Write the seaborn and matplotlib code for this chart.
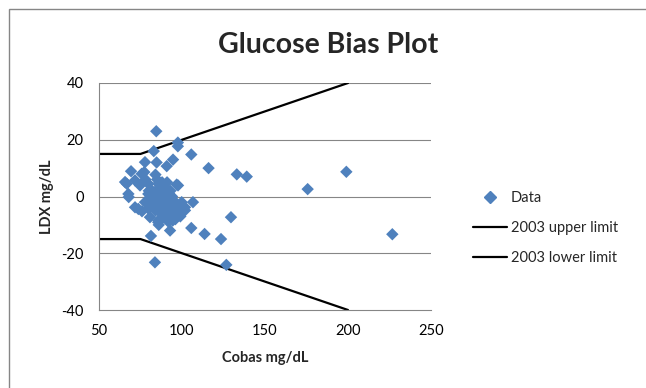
import matplotlib
matplotlib.use("Agg")
import matplotlib.pyplot as plt
import seaborn as sns
import pandas as pd
from matplotlib.patches import Rectangle
from matplotlib.lines import Line2D

# ---- data ----
cobas = [84.5, 97.5, 97.5, 83, 105.6, 77.7, 84.7, 94.6, 90.8, 116, 69.3, 84, 133, 139, 97.6,
         75.7, 65.7, 199, 175.7, 226.7, 126.7, 129.5, 123.5, 113.6, 105.6, 106.6, 83.7, 81.3,
         92.8, 66.7, 67.9, 73.7, 75.9, 80.7, 85.7, 94.4, 99.8, 101.8,
         77.3, 71.7, 74.7, 79.7, 85.7, 89.8, 96.8, 67.7, 79.7, 83.7, 87.8, 91.8, 92.8, 77.7,
         83.7, 71.7, 79.7, 85.7, 89.8, 94.8, 99.8, 101.8, 85.7, 92.8, 97.8,
         82, 86, 88, 90, 87, 89, 91, 93, 95, 96, 88, 84, 86, 90, 92, 94, 85, 88, 91, 83, 81,
         87, 90, 94, 97, 99, 96, 89, 86, 92, 78, 80, 93]
bias = [23, 19, 17.7, 16, 14.8, 12.1, 12, 13, 10.7, 10, 8.9, 7.7, 7.8, 7, 3.9,
        8, 5.1, 8.7, 2.6, -13.3, -24.1, -7.3, -15, -13.2, -11.1, -2, -23.2, -13.9,
        -12, 4.5, -0.2, -4.4, -5.2, -7.3, -9.1, -8.5, -5.5, -3.8,
        8.6, 5.7, 3.9, 4.5, 4.5, 3.3, 4.2, 0.9, 0.9, 0.9, -0.2, 0.9, -1.4, -2,
        -2.6, -3.8, -4.3, -4.9, -3.8, -4.3, -2, -4.9, -8.5, -6.7, -6.7,
        2, 3, 1, 2, -3, -5, -4, -3, -6, -2, -6, -5, -1, -1, 1, 0, 6, 5, 5, -1, -3,
        -8, -7, -5, -4, -7, -8, 3, -10, -9, 6, 2, 2]

limit_x = [50, 75, 200]
upper_y = [15, 15, 40]
lower_y = [-15, -15, -40]

x_ticks = [50, 100, 150, 200, 250]
y_ticks = [-40, -20, 0, 20, 40]

df = pd.DataFrame({"Cobas": cobas, "Bias": bias})
lim = pd.DataFrame({"x": limit_x, "upper": upper_y, "lower": lower_y})

sns.set_theme(style="white")
plt.rcParams["font.family"] = ["Lato", "DejaVu Sans"]
plt.rcParams["axes.unicode_minus"] = False

W, H = 646, 388
fig = plt.figure(figsize=(W / 100, H / 100), dpi=100)
ax = fig.add_axes([99 / W, 1 - 310 / H, (431 - 99) / W, (310 - 83) / H])

grid_col = "#868686"
ax.set_axisbelow(True)
for yv in y_ticks[1:]:
    ax.axhline(yv, color=grid_col, lw=0.8, zorder=0)

sns.lineplot(data=lim, x="x", y="upper", ax=ax, color="black", lw=1.6,
             label="2003 upper limit", legend=False, zorder=2)
sns.lineplot(data=lim, x="x", y="lower", ax=ax, color="black", lw=1.6,
             label="2003 lower limit", legend=False, zorder=2)
sns.scatterplot(data=df, x="Cobas", y="Bias", ax=ax, marker="D", s=40,
                color="#4F81BD", edgecolor="none", linewidth=0, zorder=3, legend=False)

ax.set_xlim(50, 250)
ax.set_ylim(-40, 40)
ax.set_xticks(x_ticks)
ax.set_yticks(y_ticks)
ax.tick_params(axis="both", length=0, labelsize=10.5, colors="#000000")
ax.tick_params(axis="y", pad=11)
ax.tick_params(axis="x", pad=10)

for s in ["top", "right"]:
    ax.spines[s].set_visible(False)
for s in ["left", "bottom"]:
    ax.spines[s].set_color(grid_col)
    ax.spines[s].set_linewidth(0.8)

ax.set_xlabel("Cobas mg/dL", fontsize=10.5, fontweight="bold")
ax.set_ylabel("LDX mg/dL", fontsize=10.5, fontweight="bold")
ax.xaxis.set_label_coords(0.5, (310 - 351) / (310 - 83))
ax.yaxis.set_label_coords((54 - 99) / (431 - 99), 0.5)

fig.text(328 / W, 1 - 45 / H, "Glucose Bias Plot", fontsize=20.5, fontweight="bold",
         ha="center", va="center")

handles = [
    Line2D([], [], marker="D", color="#4F81BD", ls="none", markersize=6),
    Line2D([], [], color="black", lw=1.6),
    Line2D([], [], color="black", lw=1.6),
]
fig.legend(handles, ["Data", "2003 upper limit", "2003 lower limit"],
           loc="center left", bbox_to_anchor=(460 / W, 1 - 228 / H), frameon=False,
           fontsize=10.5, handlelength=2.3, handletextpad=0.3, labelspacing=1.1)

fig.add_artist(Rectangle((9 / W, -0.5), 2.0, 0.5 + 1 - 8.5 / H, transform=fig.transFigure,
                         fill=False, edgecolor="#868686", lw=1.0))

fig.savefig("out.png", dpi=100)
